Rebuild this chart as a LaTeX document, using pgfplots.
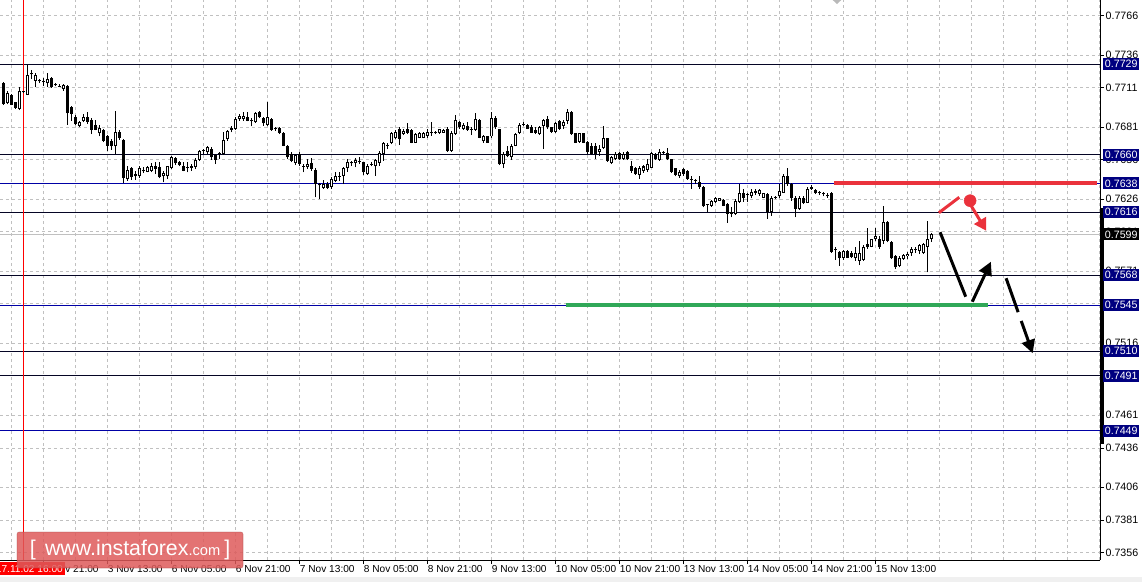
\documentclass[border=0pt]{standalone}
\usepackage{pgfplots}
\pgfplotsset{compat=1.18}
\usepackage{pgfplotstable}
\usepackage{fontspec}
\setmainfont{Liberation Sans}
\usetikzlibrary{arrows.meta}
\definecolor{navyl}{RGB}{0,0,128}
\definecolor{darklv}{RGB}{4,4,36}
\definecolor{bluelv}{RGB}{0,0,165}
\definecolor{gridc}{RGB}{192,192,192}
\definecolor{lvred}{RGB}{234,50,60}
\definecolor{lvgreen}{RGB}{48,168,88}
\definecolor{wmred}{RGB}{222,90,90}

\pgfplotstableread{
k o h l c
0 0.77143 0.77151 0.76980 0.76985
1 0.76991 0.77082 0.76983 0.77069
2 0.77054 0.77059 0.76975 0.76980
3 0.76998 0.77003 0.76950 0.76957
4 0.76947 0.77113 0.76940 0.77087
5 0.77074 0.77087 0.77067 0.77082
6 0.77057 0.77286 0.77054 0.77207
7 0.77217 0.77245 0.77176 0.77212
8 0.77164 0.77222 0.77113 0.77207
9 0.77161 0.77174 0.77146 0.77158
10 0.77158 0.77184 0.77125 0.77153
11 0.77146 0.77222 0.77115 0.77176
12 0.77181 0.77189 0.77108 0.77113
13 0.77136 0.77146 0.77120 0.77130
14 0.77125 0.77136 0.77113 0.77118
15 0.77100 0.77138 0.77087 0.77130
16 0.77120 0.77130 0.76828 0.76914
17 0.76960 0.76973 0.76858 0.76909
18 0.76889 0.76901 0.76825 0.76833
19 0.76820 0.76858 0.76812 0.76851
20 0.76853 0.76909 0.76845 0.76886
21 0.76884 0.76922 0.76833 0.76851
22 0.76863 0.76876 0.76756 0.76789
23 0.76825 0.76866 0.76784 0.76789
24 0.76761 0.76825 0.76739 0.76800
25 0.76789 0.76795 0.76693 0.76705
26 0.76744 0.76749 0.76629 0.76667
27 0.76705 0.76718 0.76637 0.76662
28 0.76662 0.76929 0.76604 0.76769
29 0.76769 0.76789 0.76713 0.76726
30 0.76711 0.76718 0.76382 0.76420
31 0.76413 0.76510 0.76400 0.76482
32 0.76494 0.76502 0.76408 0.76426
33 0.76451 0.76476 0.76408 0.76433
34 0.76438 0.76510 0.76423 0.76494
35 0.76471 0.76502 0.76459 0.76482
36 0.76469 0.76515 0.76464 0.76507
37 0.76476 0.76535 0.76464 0.76515
38 0.76515 0.76540 0.76451 0.76489
39 0.76507 0.76540 0.76418 0.76426
40 0.76433 0.76476 0.76387 0.76456
41 0.76433 0.76515 0.76413 0.76510
42 0.76497 0.76591 0.76489 0.76578
43 0.76573 0.76583 0.76520 0.76532
44 0.76540 0.76553 0.76510 0.76520
45 0.76515 0.76540 0.76471 0.76476
46 0.76507 0.76540 0.76464 0.76497
47 0.76515 0.76527 0.76476 0.76499
48 0.76502 0.76573 0.76489 0.76560
49 0.76560 0.76637 0.76553 0.76629
50 0.76627 0.76642 0.76604 0.76637
51 0.76616 0.76662 0.76604 0.76655
52 0.76642 0.76655 0.76560 0.76578
53 0.76596 0.76604 0.76527 0.76560
54 0.76604 0.76622 0.76566 0.76601
55 0.76604 0.76769 0.76596 0.76711
56 0.76718 0.76790 0.76706 0.76782
57 0.76790 0.76820 0.76769 0.76800
58 0.76795 0.76884 0.76790 0.76871
59 0.76871 0.76909 0.76858 0.76891
60 0.76871 0.76922 0.76858 0.76896
61 0.76884 0.76922 0.76853 0.76858
62 0.76861 0.76876 0.76815 0.76856
63 0.76845 0.76922 0.76840 0.76917
64 0.76922 0.76935 0.76876 0.76884
65 0.76876 0.76884 0.76820 0.76840
66 0.76825 0.77003 0.76815 0.76884
67 0.76871 0.76876 0.76782 0.76790
68 0.76797 0.76807 0.76782 0.76792
69 0.76800 0.76807 0.76756 0.76764
70 0.76764 0.76774 0.76662 0.76667
71 0.76662 0.76672 0.76566 0.76578
72 0.76604 0.76616 0.76540 0.76553
73 0.76535 0.76604 0.76520 0.76596
74 0.76604 0.76616 0.76515 0.76527
75 0.76512 0.76527 0.76464 0.76507
76 0.76502 0.76566 0.76489 0.76525
77 0.76535 0.76571 0.76476 0.76489
78 0.76484 0.76494 0.76273 0.76375
79 0.76370 0.76382 0.76260 0.76364
80 0.76344 0.76408 0.76336 0.76375
81 0.76375 0.76387 0.76336 0.76344
82 0.76349 0.76426 0.76336 0.76413
83 0.76400 0.76469 0.76387 0.76433
84 0.76436 0.76464 0.76400 0.76431
85 0.76438 0.76502 0.76375 0.76494
86 0.76497 0.76566 0.76469 0.76545
87 0.76538 0.76553 0.76515 0.76532
88 0.76535 0.76571 0.76502 0.76560
89 0.76548 0.76578 0.76527 0.76543
90 0.76540 0.76545 0.76443 0.76464
91 0.76451 0.76527 0.76443 0.76515
92 0.76522 0.76540 0.76510 0.76527
93 0.76510 0.76566 0.76438 0.76560
94 0.76539 0.76629 0.76514 0.76611
95 0.76603 0.76697 0.76552 0.76692
96 0.76664 0.76692 0.76641 0.76669
97 0.76692 0.76774 0.76679 0.76768
98 0.76723 0.76786 0.76718 0.76774
99 0.76794 0.76807 0.76672 0.76718
100 0.76756 0.76794 0.76748 0.76781
101 0.76799 0.76840 0.76756 0.76768
102 0.76789 0.76799 0.76685 0.76692
103 0.76692 0.76768 0.76687 0.76756
104 0.76730 0.76776 0.76723 0.76768
105 0.76730 0.76774 0.76723 0.76768
106 0.76743 0.76794 0.76730 0.76774
107 0.76766 0.76845 0.76743 0.76771
108 0.76763 0.76781 0.76756 0.76774
109 0.76768 0.76799 0.76756 0.76794
110 0.76768 0.76799 0.76763 0.76786
111 0.76799 0.76807 0.76623 0.76629
112 0.76629 0.76781 0.76621 0.76768
113 0.76756 0.76901 0.76751 0.76865
114 0.76845 0.76858 0.76794 0.76807
115 0.76794 0.76840 0.76786 0.76824
116 0.76819 0.76845 0.76781 0.76789
117 0.76791 0.76807 0.76748 0.76786
118 0.76789 0.76921 0.76781 0.76870
119 0.76865 0.76875 0.76723 0.76730
120 0.76700 0.76751 0.76692 0.76743
121 0.76738 0.76743 0.76687 0.76692
122 0.76738 0.76926 0.76730 0.76883
123 0.76883 0.76891 0.76794 0.76807
124 0.76794 0.76799 0.76519 0.76527
125 0.76527 0.76616 0.76494 0.76603
126 0.76629 0.76667 0.76578 0.76590
127 0.76578 0.76679 0.76560 0.76667
128 0.76667 0.76768 0.76662 0.76756
129 0.76768 0.76840 0.76756 0.76824
130 0.76829 0.76845 0.76819 0.76835
131 0.76824 0.76832 0.76794 0.76799
132 0.76814 0.76824 0.76763 0.76768
133 0.76789 0.76807 0.76756 0.76768
134 0.76756 0.76819 0.76748 0.76814
135 0.76819 0.76875 0.76641 0.76865
136 0.76870 0.76896 0.76794 0.76807
137 0.76807 0.76814 0.76763 0.76774
138 0.76774 0.76850 0.76768 0.76840
139 0.76858 0.76865 0.76789 0.76799
140 0.76819 0.76865 0.76794 0.76850
141 0.76858 0.76947 0.76832 0.76926
142 0.76926 0.76934 0.76751 0.76756
143 0.76761 0.76768 0.76687 0.76692
144 0.76697 0.76768 0.76692 0.76763
145 0.76761 0.76768 0.76687 0.76692
146 0.76697 0.76705 0.76603 0.76616
147 0.76667 0.76692 0.76595 0.76603
148 0.76667 0.76692 0.76570 0.76603
149 0.76621 0.76672 0.76590 0.76641
150 0.76654 0.76819 0.76641 0.76730
151 0.76723 0.76730 0.76545 0.76552
152 0.76534 0.76590 0.76527 0.76578
153 0.76570 0.76616 0.76557 0.76603
154 0.76611 0.76621 0.76560 0.76570
155 0.76570 0.76621 0.76560 0.76603
156 0.76616 0.76629 0.76557 0.76570
157 0.76514 0.76552 0.76463 0.76476
158 0.76501 0.76506 0.76443 0.76450
159 0.76443 0.76514 0.76412 0.76501
160 0.76476 0.76519 0.76463 0.76509
161 0.76483 0.76565 0.76468 0.76527
162 0.76501 0.76616 0.76496 0.76611
163 0.76603 0.76611 0.76557 0.76565
164 0.76560 0.76641 0.76552 0.76621
165 0.76616 0.76629 0.76603 0.76611
166 0.76611 0.76654 0.76557 0.76565
167 0.76565 0.76570 0.76463 0.76468
168 0.76494 0.76501 0.76433 0.76443
169 0.76438 0.76483 0.76425 0.76468
170 0.76489 0.76494 0.76438 0.76450
171 0.76476 0.76483 0.76407 0.76412
172 0.76417 0.76438 0.76341 0.76405
173 0.76402 0.76412 0.76374 0.76399
174 0.76392 0.76433 0.76341 0.76356
175 0.76356 0.76361 0.76196 0.76204
176 0.76218 0.76220 0.76163 0.76214
177 0.76209 0.76254 0.76201 0.76247
178 0.76239 0.76277 0.76229 0.76270
179 0.76249 0.76272 0.76244 0.76265
180 0.76254 0.76259 0.76204 0.76209
181 0.76221 0.76229 0.76081 0.76145
182 0.76150 0.76196 0.76120 0.76153
183 0.76145 0.76259 0.76137 0.76247
184 0.76239 0.76374 0.76234 0.76303
185 0.76310 0.76336 0.76239 0.76272
186 0.76290 0.76305 0.76239 0.76292
187 0.76280 0.76336 0.76265 0.76315
188 0.76321 0.76336 0.76290 0.76310
189 0.76300 0.76341 0.76285 0.76331
190 0.76272 0.76310 0.76265 0.76305
191 0.76298 0.76310 0.76112 0.76158
192 0.76163 0.76280 0.76132 0.76272
193 0.76270 0.76280 0.76260 0.76274
194 0.76280 0.76374 0.76265 0.76323
195 0.76310 0.76450 0.76305 0.76433
196 0.76433 0.76494 0.76361 0.76374
197 0.76374 0.76382 0.76247 0.76265
198 0.76272 0.76280 0.76120 0.76183
199 0.76183 0.76280 0.76178 0.76272
200 0.76272 0.76285 0.76221 0.76234
201 0.76234 0.76349 0.76229 0.76341
202 0.76354 0.76366 0.76331 0.76336
203 0.76331 0.76341 0.76298 0.76305
204 0.76316 0.76323 0.76290 0.76305
205 0.76300 0.76316 0.76280 0.76296
206 0.76290 0.76310 0.76272 0.76280
207 0.76310 0.76316 0.75852 0.75857
208 0.75873 0.75891 0.75796 0.75870
209 0.75857 0.75865 0.75751 0.75807
210 0.75814 0.75873 0.75796 0.75865
211 0.75865 0.75873 0.75807 0.75814
212 0.75852 0.75865 0.75807 0.75818
213 0.75807 0.75891 0.75789 0.75845
214 0.75789 0.75941 0.75756 0.75847
215 0.75796 0.75908 0.75789 0.75898
216 0.75916 0.76043 0.75883 0.75891
217 0.75898 0.75959 0.75891 0.75954
218 0.75954 0.76043 0.75941 0.75975
219 0.75959 0.75975 0.75883 0.75891
220 0.75941 0.76209 0.75916 0.76087
221 0.76087 0.76094 0.75929 0.75941
222 0.75934 0.75941 0.75801 0.75807
223 0.75827 0.75832 0.75725 0.75738
224 0.75751 0.75827 0.75738 0.75814
225 0.75801 0.75840 0.75796 0.75832
226 0.75822 0.75857 0.75801 0.75840
227 0.75847 0.75898 0.75827 0.75883
228 0.75870 0.75891 0.75852 0.75875
229 0.75865 0.75916 0.75840 0.75908
230 0.75847 0.75924 0.75840 0.75916
231 0.75898 0.76094 0.75700 0.75959
232 0.75959 0.76000 0.75934 0.75992
}\candles

\begin{document}
\begin{tikzpicture}
\useasboundingbox (0pt,0pt) rectangle (856.5pt,-436.5pt);
\fill[gray!12] (0pt,-432.75pt) rectangle (856.5pt,-436.5pt);
\begin{axis}[
  at={(0pt,0pt)}, anchor=north west,
  scale only axis, width=825pt, height=420pt,
  xmin=-0.925, xmax=274.075, ymin=0.73505, ymax=0.77780,
  axis x line*=bottom, axis y line*=right,
  axis line style={line width=0.75pt, black},
  tick align=outside, major tick length=3pt, minor tick length=0pt,
  tick style={black, line width=0.75pt},
  xtick={10,26,...,218},
  xticklabels={2 Nov 21:00,3 Nov 13:00,6 Nov 05:00,6 Nov 21:00,7 Nov 13:00,8 Nov 05:00,8 Nov 21:00,9 Nov 13:00,10 Nov 05:00,10 Nov 21:00,13 Nov 13:00,14 Nov 05:00,14 Nov 21:00,15 Nov 13:00},
  minor xtick={2,18,...,274,234,250,266},
  ytick={0.7356,0.7381,0.7406,0.7436,0.7461,0.7491,0.7516,0.7546,0.7571,0.7601,0.7626,0.7656,0.7681,0.7711,0.7736,0.7766},
  yticklabels={0.7356,0.7381,0.7406,0.7436,0.7461,0.7491,0.7516,0.7546,0.7571,0.7601,0.7626,0.7656,0.7681,0.7711,0.7736,0.7766},
  xmajorgrids, xminorgrids, ymajorgrids,
  major grid style={gridc, line width=0.75pt, dash pattern=on 2.25pt off 2.25pt},
  minor grid style={gridc, line width=0.75pt, dash pattern=on 2.25pt off 2.25pt},
  xticklabel style={font=\fontsize{7.6}{8}\selectfont, anchor=north west, xshift=-1pt, inner sep=1pt},
  yticklabel style={font=\fontsize{8}{9}\selectfont, anchor=west, inner sep=1pt},
  /pgf/number format/assume math mode=true,
]
% horizontal levels
\addplot[gridc, line width=0.75pt] coordinates {(-1,0.7599) (275,0.7599)};
\addplot[darklv, line width=0.75pt] coordinates {(-1,0.7729) (275,0.7729)};
\addplot[darklv, line width=0.75pt] coordinates {(-1,0.7660) (275,0.7660)};
\addplot[bluelv, line width=0.75pt] coordinates {(-1,0.7638) (275,0.7638)};
\addplot[darklv, line width=0.75pt] coordinates {(-1,0.7616) (275,0.7616)};
\addplot[darklv, line width=0.75pt] coordinates {(-1,0.7568) (275,0.7568)};
\addplot[bluelv, line width=0.75pt] coordinates {(-1,0.7545) (275,0.7545)};
\addplot[darklv, line width=0.75pt] coordinates {(-1,0.7510) (275,0.7510)};
\addplot[darklv, line width=0.75pt] coordinates {(-1,0.7491) (275,0.7491)};
\addplot[bluelv, line width=0.75pt] coordinates {(-1,0.7449) (275,0.7449)};
% crosshair
\addplot[red, line width=0.75pt] coordinates {(5,0.73505) (5,0.7778)};
% candles: wicks
\addplot[draw=none, mark=none, error bars/.cd, y dir=plus, y explicit, error mark=none,
  error bar style={draw=black, line width=0.75pt, solid}]
  table[x=k, y=l, y error plus expr={\thisrow{h}-\thisrow{l}}] {\candles};
% bodies
\addplot[draw=none, mark=none, error bars/.cd, y dir=plus, y explicit, error mark=none,
  error bar style={draw=black, line width=2.25pt, solid}]
  table[x=k, y expr={min(\thisrow{o},\thisrow{c})}, y error plus expr={max(abs(\thisrow{c}-\thisrow{o}),0.00008)}] {\candles};
% white interiors of rising candles
\addplot[draw=none, mark=none, error bars/.cd, y dir=plus, y explicit, error mark=none,
  error bar style={draw=white, line width=0.75pt, solid}]
  table[x=k, y expr={\thisrow{o}+0.000076}, y error plus expr={max(\thisrow{c}-\thisrow{o}-0.000153,0)}] {\candles};
% resistance / support
\addplot[lvred, line width=3pt] coordinates {(207.6,0.7638) (273.3,0.7638)};
\addplot[lvgreen, line width=3pt] coordinates {(140.6,0.7545) (246.0,0.7545)};
% scenario arrows
\addplot[lvred, line width=2.25pt] coordinates {(233.8,0.76156) (238.9,0.76274)};
\addplot[only marks, mark=*, mark size=4.5pt, lvred] coordinates {(241.6,0.76248)};
\addplot[lvred, line width=2.25pt, -{Triangle[length=9pt,width=10pt]}] coordinates {(241.75,0.76215) (245.6,0.76019)};
\addplot[black, line width=2.25pt] coordinates {(234.1,0.76007) (240.5,0.75515)};
\addplot[black, line width=2.25pt, -{Triangle[length=10pt,width=10pt]}] coordinates {(242.15,0.75477) (246.8,0.75782)};
\addplot[black, line width=2.25pt, dash pattern=on 27pt off 7pt, -{Triangle[length=10pt,width=10pt]}] coordinates {(250.6,0.75656) (257.25,0.75083)};
% anchors for price labels
\coordinate (P7729) at (axis cs:274.075,0.7729);
\coordinate (P7660) at (axis cs:274.075,0.7660);
\coordinate (P7638) at (axis cs:274.075,0.7638);
\coordinate (P7616) at (axis cs:274.075,0.7616);
\coordinate (P7599) at (axis cs:274.075,0.7599);
\coordinate (P7568) at (axis cs:274.075,0.7568);
\coordinate (P7545) at (axis cs:274.075,0.7545);
\coordinate (P7510) at (axis cs:274.075,0.7510);
\coordinate (P7491) at (axis cs:274.075,0.7491);
\coordinate (P7449) at (axis cs:274.075,0.7449);
\end{axis}
% scale marker bar
\fill[black] (825pt,-156pt) rectangle (828pt,-333pt);
\fill[gray!55] (624.5pt,0pt) -- (631pt,0pt) -- (627.75pt,-3pt) -- cycle;
\foreach \v/\col in {7729/navyl,7660/navyl,7638/navyl,7616/navyl,7599/black,7568/navyl,7545/navyl,7510/navyl,7491/navyl,7449/navyl}
  \node[fill=\col, text=white, anchor=west, minimum width=27pt, minimum height=9pt, inner sep=0pt,
        font=\fontsize{8}{9}\selectfont] at ([xshift=2.25pt]P\v) {0.\v};
% cursor date
\node[fill=red, text=white, inner xsep=2pt, inner ysep=0pt, minimum height=9.75pt, anchor=north,
      font=\fontsize{7.6}{8}\selectfont] at (17.8pt,-421.5pt) {2017.11.02 16:00};
% watermark
\node[fill=wmred, fill opacity=0.85, text opacity=1, draw=wmred!70!black, draw opacity=0.4,
      rounded corners=1.5pt, minimum width=169.5pt, minimum height=27pt, inner sep=0pt,
      anchor=center, text=white] at (97.5pt,-412.5pt)
  {\fontsize{16}{16}\selectfont [\hspace{7pt}www.instaforex{\fontsize{11}{11}\selectfont .com}\hspace{3pt}]};
\end{tikzpicture}
\end{document}
